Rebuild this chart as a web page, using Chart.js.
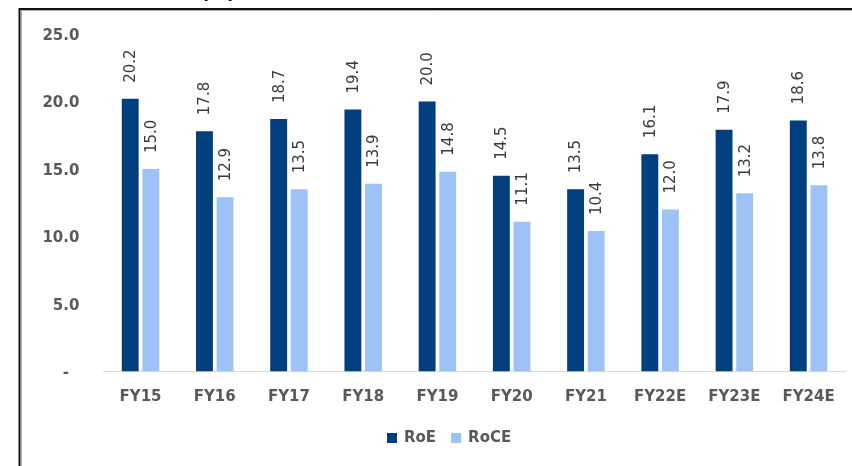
<!DOCTYPE html>
<html>
<head>
<meta charset="utf-8">
<script src="https://cdn.jsdelivr.net/npm/chart.js@4.4.1/dist/chart.umd.min.js"></script>
<style>
  html, body { margin: 0; padding: 0; background: #ffffff; }
  #wrap { position: relative; width: 852px; height: 466px; }
  canvas { display: block; }
</style>
</head>
<body>
<div id="wrap"><canvas id="c" width="852" height="466"></canvas></div>
<script>
const categories = ["FY15", "FY16", "FY17", "FY18", "FY19", "FY20", "FY21", "FY22E", "FY23E", "FY24E"];
const roe = [20.2, 17.8, 18.7, 19.4, 20.0, 14.5, 13.5, 16.1, 17.9, 18.6];
const roce = [15.0, 12.9, 13.5, 13.9, 14.8, 11.1, 10.4, 12.0, 13.2, 13.8];
const seriesNames = ["RoE", "RoCE"];
const yTickLabels = ["-  ", "5.0", "10.0", "15.0", "20.0", "25.0"];
const titleText = "(%)";

const C_ROE = "#023F7F";
const C_ROCE = "#9DC3F6";
const FONT = "'DejaVu Sans', sans-serif";

const framePlugin = {
  id: "frame",
  afterDraw(chart) {
    const ctx = chart.ctx;
    ctx.save();
    // title remnant (cut off at top of the picture)
    ctx.font = "bold 18px " + FONT;
    ctx.fillStyle = "#000000";
    ctx.textAlign = "left";
    ctx.textBaseline = "alphabetic";
    ctx.fillText(titleText, 201, -1.5);
    // frame lines
    ctx.strokeStyle = "#b0b0b0";
    ctx.lineWidth = 1;
    ctx.beginPath();
    ctx.moveTo(21.5, 11); ctx.lineTo(21.5, 466);
    ctx.moveTo(21, 10.5); ctx.lineTo(852, 10.5);
    ctx.stroke();
    ctx.strokeStyle = "#111111";
    ctx.lineWidth = 2;
    ctx.beginPath();
    ctx.moveTo(19.5, 8); ctx.lineTo(19.5, 466);
    ctx.moveTo(18.5, 9); ctx.lineTo(852, 9);
    ctx.stroke();
    ctx.restore();
  }
};

const labelPlugin = {
  id: "barLabels",
  afterDatasetsDraw(chart) {
    const ctx = chart.ctx;
    ctx.save();
    ctx.font = "15px " + FONT;
    ctx.fillStyle = "#3a3a3a";
    ctx.textAlign = "left";
    ctx.textBaseline = "middle";
    chart.data.datasets.forEach((ds, di) => {
      const meta = chart.getDatasetMeta(di);
      meta.data.forEach((bar, i) => {
        const v = ds.data[i];
        ctx.save();
        ctx.translate(bar.x + 1, bar.y - 16);
        ctx.rotate(-Math.PI / 2);
        ctx.fillText(v.toFixed(1), 0, 0);
        ctx.restore();
      });
    });
    ctx.restore();
  }
};

const legendPlugin = {
  id: "customLegend",
  afterDraw(chart) {
    const ctx = chart.ctx;
    ctx.save();
    ctx.font = "bold 15px " + FONT;
    ctx.textBaseline = "middle";
    ctx.textAlign = "left";
    const cy = 438;
    let x = 387;
    chart.data.datasets.forEach((ds, di) => {
      ctx.fillStyle = ds.backgroundColor;
      ctx.fillRect(x, cy - 5, 10, 10);
      ctx.fillStyle = "#595959";
      ctx.fillText(ds.label, x + 17, cy);
      x += 17 + ctx.measureText(ds.label).width + 15;
    });
    ctx.restore();
  }
};

new Chart(document.getElementById("c"), {
  type: "bar",
  data: {
    labels: categories,
    datasets: [
      { label: seriesNames[0], data: roe, backgroundColor: C_ROE, borderWidth: 0 },
      { label: seriesNames[1], data: roce, backgroundColor: C_ROCE, borderWidth: 0 }
    ]
  },
  options: {
    responsive: false,
    animation: false,
    devicePixelRatio: 1,
    layout: { padding: { left: 0, right: 6, top: 34, bottom: 0 } },
    datasets: { bar: { categoryPercentage: 0.555, barPercentage: 0.82 } },
    plugins: { legend: { display: false }, tooltip: { enabled: false }, title: { display: false } },
    scales: {
      x: {
        grid: { display: false, drawTicks: false },
        border: { display: true, color: "#d9d9d9", width: 1 },
        ticks: { color: "#595959", font: { family: FONT, size: 15, weight: "bold" }, padding: 17, maxRotation: 0 },
        afterFit(scale) { scale.height = 466 - 371.5; }
      },
      y: {
        min: 0, max: 25,
        grid: { display: false, drawTicks: false },
        border: { display: false },
        ticks: {
          stepSize: 5,
          color: "#595959",
          font: { family: FONT, size: 15, weight: "bold" },
          padding: 24,
          labelOffset: 2,
          callback: (v) => yTickLabels[Math.round(v / 5)]
        },
        afterFit(scale) { scale.width = 103.4; }
      }
    }
  },
  plugins: [labelPlugin, legendPlugin, framePlugin]
});
</script>
</body>
</html>
